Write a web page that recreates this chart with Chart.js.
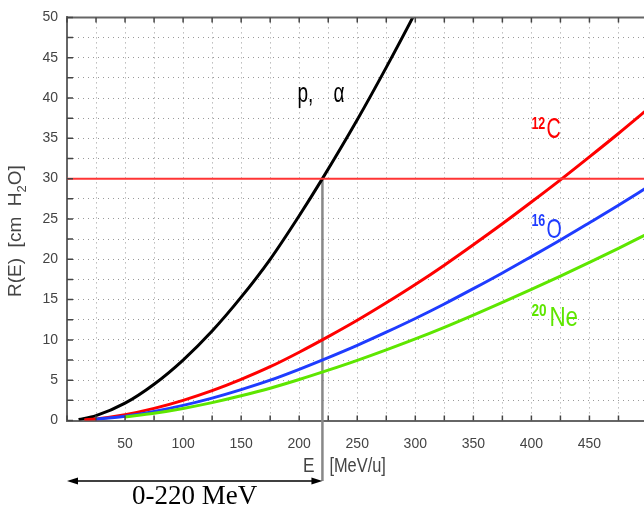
<!DOCTYPE html>
<html>
<head>
<meta charset="utf-8">
<script src="https://cdn.jsdelivr.net/npm/chart.js@4/dist/chart.umd.min.js"></script>
<style>
  html, body { margin: 0; padding: 0; overflow: hidden; background: #fff; }
  #wrap { width: 648px; height: 505px; }
</style>
</head>
<body>
<div id="wrap"><canvas id="rangeChart" width="648" height="505"></canvas></div>
<script>
// kinetic energy per nucleon (MeV/u) and CSDA range in water (cm)
var protonE = [10, 25, 50, 75, 100, 125, 150, 175, 200, 220, 250, 275, 300, 325];
var protonR = [0.12, 0.6, 2.15, 4.5, 7.5, 11.1, 15.3, 20.0, 25.4, 30.0, 37.3, 43.8, 50.6, 57.8];

var carbonE = [15, 25, 50, 75, 100, 125, 150, 175, 200, 225, 250, 275, 300, 325, 350, 375, 400, 425, 450, 475, 500];
var carbonR = [0.1, 0.2, 0.72, 1.5, 2.5, 3.7, 5.1, 6.67, 8.47, 10.4, 12.43, 14.6, 16.87, 19.27, 21.8, 24.4, 27.1, 29.85, 32.7, 35.6, 38.6];

var oxygenE = [25, 50, 75, 100, 125, 150, 175, 200, 225, 250, 275, 300, 325, 350, 375, 400, 425, 450, 475, 500];
var oxygenR = [0.15, 0.54, 1.13, 1.88, 2.78, 3.83, 5.0, 6.35, 7.8, 9.32, 10.95, 12.65, 14.45, 16.35, 18.3, 20.33, 22.39, 24.53, 26.7, 28.95];

var neonE = [50, 75, 100, 125, 150, 175, 200, 225, 250, 275, 300, 325, 350, 375, 400, 425, 450, 475, 500];
var neonR = [0.43, 0.9, 1.5, 2.22, 3.06, 4.0, 5.08, 6.24, 7.46, 8.76, 10.12, 11.56, 13.08, 14.64, 16.26, 17.91, 19.62, 21.36, 23.16];

// 30 cm depth and the proton energy that reaches it
var refDepth = 30;
var refEnergy = 220;
var refText = "0-220 MeV";

var xRange = [0, 500];
var yRange = [0, 50];

function toPoints(xs, ys) {
  var pts = [];
  for (var i = 0; i < xs.length; i++) {
    pts.push({ x: xs[i], y: ys[i] });
  }
  return pts;
}

function curve(xs, ys, color) {
  return {
    data: toPoints(xs, ys),
    borderColor: color,
    borderWidth: 3,
    pointRadius: 0,
    fill: false,
    cubicInterpolationMode: "monotone"
  };
}

// draws text squeezed horizontally (narrow face)
function squeezed(ctx, text, x, y, size, color, sx, align, weight) {
  ctx.save();
  ctx.font = (weight || "") + " " + size + "px 'Liberation Sans', Arial, sans-serif";
  ctx.fillStyle = color;
  ctx.textBaseline = "alphabetic";
  var w = ctx.measureText(text).width * sx;
  var x0 = align === "right" ? x - w : x;
  ctx.translate(x0, y);
  ctx.scale(sx, 1);
  ctx.fillText(text, 0, 0);
  ctx.restore();
  return w;
}

var decor = {
  id: "decor",
  beforeDatasetsDraw: function(chart) {
    var ctx = chart.ctx;
    var xs = chart.scales.x, ys = chart.scales.y;
    var lx = xs.getPixelForValue(refEnergy);
    ctx.save();
    ctx.strokeStyle = "#888";
    ctx.lineWidth = 2.5;
    ctx.beginPath();
    ctx.moveTo(lx, ys.getPixelForValue(refDepth));
    ctx.lineTo(lx, 481);
    ctx.stroke();
    ctx.restore();
  },
  afterDraw: function(chart) {
    var ctx = chart.ctx;
    var xs = chart.scales.x, ys = chart.scales.y;
    var area = chart.chartArea;

    // frame top line and inward ticks
    ctx.save();
    ctx.strokeStyle = "#666";
    ctx.lineWidth = 2;
    ctx.beginPath();
    ctx.moveTo(area.left - 1, area.top);
    ctx.lineTo(area.right, area.top);
    ctx.stroke();
    ctx.strokeStyle = "#444";
    ctx.lineWidth = 1.5;
    ctx.beginPath();
    xs.ticks.forEach(function(t) {
      var px = xs.getPixelForValue(t.value);
      ctx.moveTo(px, area.bottom);
      ctx.lineTo(px, area.bottom - 5);
      ctx.moveTo(px, area.top);
      ctx.lineTo(px, area.top + 5);
    });
    ys.ticks.forEach(function(t) {
      var py = ys.getPixelForValue(t.value);
      ctx.moveTo(area.left, py);
      ctx.lineTo(area.left + 6, py);
    });
    ctx.stroke();
    ctx.restore();

    // curve labels
    var ax, ay;
    ax = xs.getPixelForValue(198.5); ay = ys.getPixelForValue(39.5);
    squeezed(ctx, "p,", ax, ay, 28, "#000", 0.68);
    squeezed(ctx, "\u03b1", ax + 36, ay, 28, "#000", 0.68);

    ax = xs.getPixelForValue(400); ay = ys.getPixelForValue(35);
    squeezed(ctx, "12", ax, ay - 9, 16, "#ff0000", 0.78, null, "bold");
    squeezed(ctx, "C", ax + 15, ay, 29, "#ff0000", 0.68);

    ay = ys.getPixelForValue(22.6);
    squeezed(ctx, "16", ax, ay - 12, 16, "#1f3cff", 0.78, null, "bold");
    squeezed(ctx, "O", ax + 15, ay, 28, "#1f3cff", 0.7);

    ay = ys.getPixelForValue(11.7);
    squeezed(ctx, "20", ax, ay - 10, 17, "#5ee600", 0.8, null, "bold");
    squeezed(ctx, "Ne", ax + 18, ay, 28, "#5ee600", 0.8);

    // x axis title split by the 220 MeV marker
    var lx = xs.getPixelForValue(refEnergy);
    squeezed(ctx, "E", lx - 8, 472, 21, "#444", 0.82, "right");
    squeezed(ctx, "[MeV/u]", lx + 7, 472, 21, "#444", 0.78);

    // y axis title with subscript
    ctx.save();
    ctx.translate(21, 297);
    ctx.rotate(-Math.PI / 2);
    ctx.fillStyle = "#444";
    ctx.font = "19px 'Liberation Sans', Arial, sans-serif";
    var head = "R(E)  [cm  H";
    ctx.fillText(head, 0, 0);
    var off = ctx.measureText(head).width;
    ctx.font = "13px 'Liberation Sans', Arial, sans-serif";
    ctx.fillText("2", off, 5);
    off += ctx.measureText("2").width;
    ctx.font = "19px 'Liberation Sans', Arial, sans-serif";
    ctx.fillText("O]", off, 0);
    ctx.restore();

    // double arrow 0 .. 220 MeV
    var x0 = xs.getPixelForValue(xRange[0]);
    var ayArrow = 481;
    ctx.save();
    ctx.strokeStyle = "#000";
    ctx.fillStyle = "#000";
    ctx.lineWidth = 1.5;
    ctx.beginPath();
    ctx.moveTo(x0 + 6, ayArrow);
    ctx.lineTo(lx - 6, ayArrow);
    ctx.stroke();
    ctx.beginPath();
    ctx.moveTo(x0, ayArrow);
    ctx.lineTo(x0 + 11, ayArrow - 3.5);
    ctx.lineTo(x0 + 11, ayArrow + 3.5);
    ctx.closePath();
    ctx.fill();
    ctx.beginPath();
    ctx.moveTo(lx, ayArrow);
    ctx.lineTo(lx - 11, ayArrow - 3.5);
    ctx.lineTo(lx - 11, ayArrow + 3.5);
    ctx.closePath();
    ctx.fill();
    ctx.font = "27px 'Liberation Serif', 'Times New Roman', serif";
    ctx.textAlign = "center";
    ctx.fillText(refText, (x0 + lx) / 2, 504);
    ctx.restore();
  }
};

var ctx = document.getElementById("rangeChart").getContext("2d");

var refLine = {
  data: [{ x: xRange[0], y: refDepth }, { x: xRange[1], y: refDepth }],
  borderColor: "#ff3535",
  borderWidth: 2,
  pointRadius: 0,
  fill: false
};

var chart = new Chart(ctx, {
  type: "line",
  data: {
    datasets: [
      refLine,
      curve(neonE, neonR, "#5ee600"),
      curve(oxygenE, oxygenR, "#1f3cff"),
      curve(carbonE, carbonR, "#ff0000"),
      curve(protonE, protonR, "#000000")
    ]
  },
  options: {
    responsive: false,
    animation: false,
    layout: { padding: { left: 0, right: 0.5, top: 13, bottom: 0 } },
    plugins: { legend: { display: false }, tooltip: { enabled: false } },
    scales: {
      x: {
        type: "linear",
        min: xRange[0],
        max: xRange[1],
        afterFit: function(s) {
          s.height = 84.5;
          s.paddingLeft = 0;
          s.paddingRight = 0;
        },
        grid: { color: "#9a9a9a", lineWidth: 1, drawTicks: false },
        border: { display: true, color: "#666", width: 2, dash: [1, 4] },
        ticks: {
          stepSize: 25,
          autoSkip: false,
          maxRotation: 0,
          padding: 15,
          color: "#444",
          font: { family: "'Liberation Sans', Arial, sans-serif", size: 14 },
          callback: function(v) {
            return (v % 50 === 0 && v > xRange[0] && v < xRange[1]) ? v : "";
          }
        }
      },
      y: {
        min: yRange[0],
        max: yRange[1],
        afterFit: function(s) { s.width = 67; },
        grid: { color: "#9a9a9a", lineWidth: 1, drawTicks: false },
        border: { display: true, color: "#666", width: 2, dash: [1, 4] },
        ticks: {
          stepSize: 2.5,
          autoSkip: false,
          padding: 9,
          color: "#444",
          font: { family: "'Liberation Sans', Arial, sans-serif", size: 14 },
          callback: function(v) {
            return v % 5 === 0 ? v : "";
          }
        }
      }
    }
  },
  plugins: [decor]
});
</script>
</body>
</html>
